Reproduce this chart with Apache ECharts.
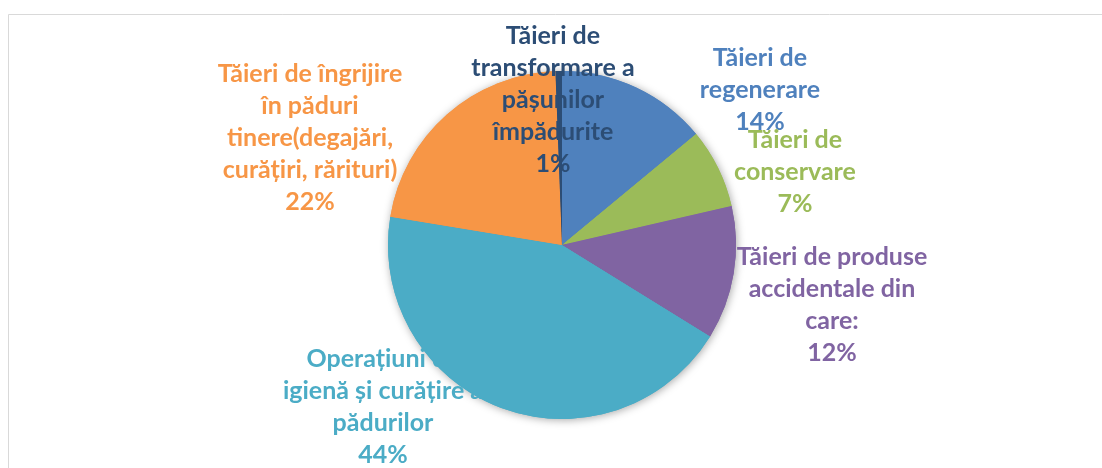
<!DOCTYPE html>
<html>
<head>
<meta charset="utf-8">
<script src="https://cdn.jsdelivr.net/npm/echarts@6/dist/echarts.min.js"></script>
<style>
    html, body { margin: 0; padding: 0; background: #fff; }
    #chart { width: 1102px; height: 468px; }
</style>
</head>
<body>
<div id="chart"></div>
<script>
// categories, clockwise from 12 o'clock
const categories = [
    'Tăieri de\nregenerare',
    'Tăieri de\nconservare',
    'Tăieri de produse\naccidentale din\ncare:',
    'Operațiuni de\nigienă și curățire a\npădurilor',
    'Tăieri de îngrijire\nîn păduri\ntinere(degajări,\ncurățiri, rărituri)',
    'Tăieri de\ntransformare a\npășunilor\nîmpădurite'
];
const shares = [14.0, 7.4, 12.4, 43.8, 21.8, 0.6];
const colors = ['#4F81BD', '#9BBB59', '#8064A2', '#4BACC6', '#F79646', '#2C4D75'];

// where each label block sits (centre, px)
const labelAt = [
    [760, 90],
    [795, 172],
    [832, 305],
    [383, 407],
    [310, 138],
    [553, 100]
];
// the igiena label sits under the pie in the original
const underIdx = 3;

const chart = echarts.init(document.getElementById('chart'));

const pieData = categories.map((name, i) => ({
    name: name,
    value: shares[i],
    itemStyle: { color: colors[i] }
}));

function pieSeries(z, labelFor, shadow) {
    return {
        type: 'pie',
        z: z,
        center: [562, 245],
        radius: 174,
        startAngle: 90,
        clockwise: true,
        avoidLabelOverlap: false,
        animation: false,
        silent: true,
        itemStyle: shadow ? {
            shadowBlur: 8,
            shadowColor: 'rgba(0,0,0,0.35)',
            shadowOffsetX: 1,
            shadowOffsetY: 1
        } : {},
        label: {
            show: true,
            position: 'outside',
            color: 'inherit',
            fontFamily: 'Lato',
            fontWeight: 'bold',
            fontSize: 25,
            lineHeight: 32,
            align: 'center',
            formatter: (p) => labelFor(p.dataIndex)
                ? p.name + '\n' + Math.round(p.percent) + '%'
                : ''
        },
        labelLine: { show: false },
        labelLayout: (params) => ({
            x: labelAt[params.dataIndex][0],
            y: labelAt[params.dataIndex][1],
            align: 'center',
            verticalAlign: 'middle'
        }),
        data: pieData
    };
}

chart.setOption({
    backgroundColor: '#fff',
    graphic: [{
        type: 'rect',
        shape: { x: 8.5, y: 14.5, width: 1200, height: 600 },
        style: { fill: 'none', stroke: '#d9d9d9', lineWidth: 1 },
        silent: true
    }],
    series: [
        pieSeries(1, (i) => i === underIdx, true),
        pieSeries(2, (i) => i !== underIdx, false)
    ]
});
</script>
</body>
</html>
